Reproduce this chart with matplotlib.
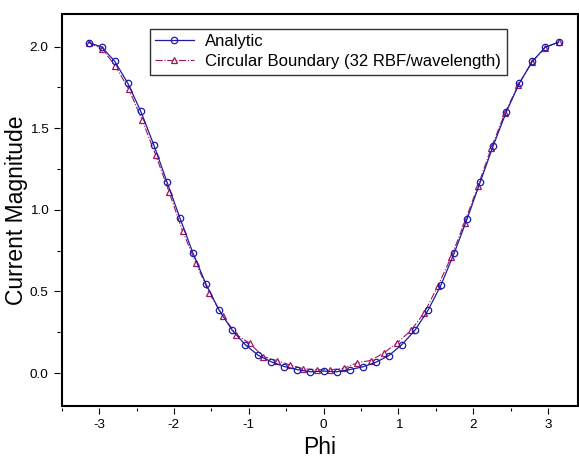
import numpy as np
import matplotlib
matplotlib.use('Agg')
import matplotlib.pyplot as plt
from matplotlib.ticker import MultipleLocator, FormatStrFormatter
from matplotlib.patches import Rectangle

plt.rcParams['font.family'] = ['Liberation Sans', 'DejaVu Sans']
plt.rcParams['axes.unicode_minus'] = False

# analytic solution, 37 points (10 degree steps from -pi to pi)
phi_analytic = np.linspace(-np.pi, np.pi, 37)
mag_analytic = [2.025, 1.998, 1.911, 1.777, 1.604, 1.398, 1.173, 0.950, 0.735,
                0.544, 0.386, 0.263, 0.174, 0.109, 0.069, 0.040, 0.021, 0.008,
                0.012, 0.008, 0.021, 0.038, 0.066, 0.107, 0.174, 0.262, 0.384,
                0.540, 0.733, 0.945, 1.170, 1.393, 1.600, 1.776, 1.910, 1.998,
                2.027]

# RBF solution on circular boundary, 36 points
phi_rbf = np.linspace(-np.pi, np.pi, 36)
mag_rbf = [2.023, 1.987, 1.882, 1.739, 1.549, 1.336, 1.110, 0.870, 0.674,
           0.488, 0.351, 0.236, 0.183, 0.101, 0.077, 0.050, 0.026, 0.021,
           0.020, 0.029, 0.063, 0.077, 0.124, 0.185, 0.261, 0.369, 0.531,
           0.710, 0.921, 1.146, 1.382, 1.592, 1.764, 1.903, 1.993, 2.028]

blue = '#1c1ca8'
red = '#a3155a'

fig = plt.figure(figsize=(5.79, 4.65), dpi=100)
ax = fig.add_axes([0.1066, 0.1275, 0.8914, 0.8424])

ax.plot(phi_rbf, mag_rbf, '-.', color=red, lw=0.8, marker='^', ms=4.4,
        mfc='white', mec=red, mew=0.9, zorder=2,
        label='Circular Boundary (32 RBF/wavelength)')
ax.plot(phi_analytic, mag_analytic, '-', color=blue, lw=0.9, marker='o', ms=4.6,
        mfc='none', mec=blue, mew=0.9, zorder=3, label='Analytic')

ax.set_xlim(-3.5, 3.4)
ax.set_ylim(-0.2, 2.2)
ax.xaxis.set_major_locator(MultipleLocator(1))
ax.xaxis.set_minor_locator(MultipleLocator(0.5))
ax.yaxis.set_major_locator(MultipleLocator(0.5))
ax.yaxis.set_minor_locator(MultipleLocator(0.25))
ax.yaxis.set_major_formatter(FormatStrFormatter('%.1f'))

# detached ticks, frame drawn separately
for s in ax.spines.values():
    s.set_visible(False)
ax.spines['bottom'].set_position(('outward', 1.5))
ax.spines['left'].set_position(('outward', 1.5))
ax.add_patch(Rectangle((0, 0), 1, 1, transform=ax.transAxes, fill=False,
                       ec='black', lw=1.5, clip_on=False, zorder=5))

ax.tick_params(which='major', direction='out', length=4, width=0.8,
               labelsize=9.7, pad=4)
ax.tick_params(which='minor', direction='out', length=2.5, width=0.8)
ax.tick_params(axis='y', which='major', pad=4)

ax.set_xlabel('Phi', fontsize=16.5, labelpad=4)
ax.set_ylabel('Current Magnitude', fontsize=16.5, labelpad=1)

handles, labels = ax.get_legend_handles_labels()
leg = ax.legend(handles[::-1], labels[::-1], loc='upper left',
                bbox_to_anchor=(0.171, 0.962), fontsize=12, frameon=True,
                fancybox=False, edgecolor='black', borderpad=0.32,
                labelspacing=0.3, handlelength=2.3, handletextpad=0.7,
                borderaxespad=0)
leg.get_frame().set_linewidth(1.0)

fig.savefig('out.png', dpi=100)
